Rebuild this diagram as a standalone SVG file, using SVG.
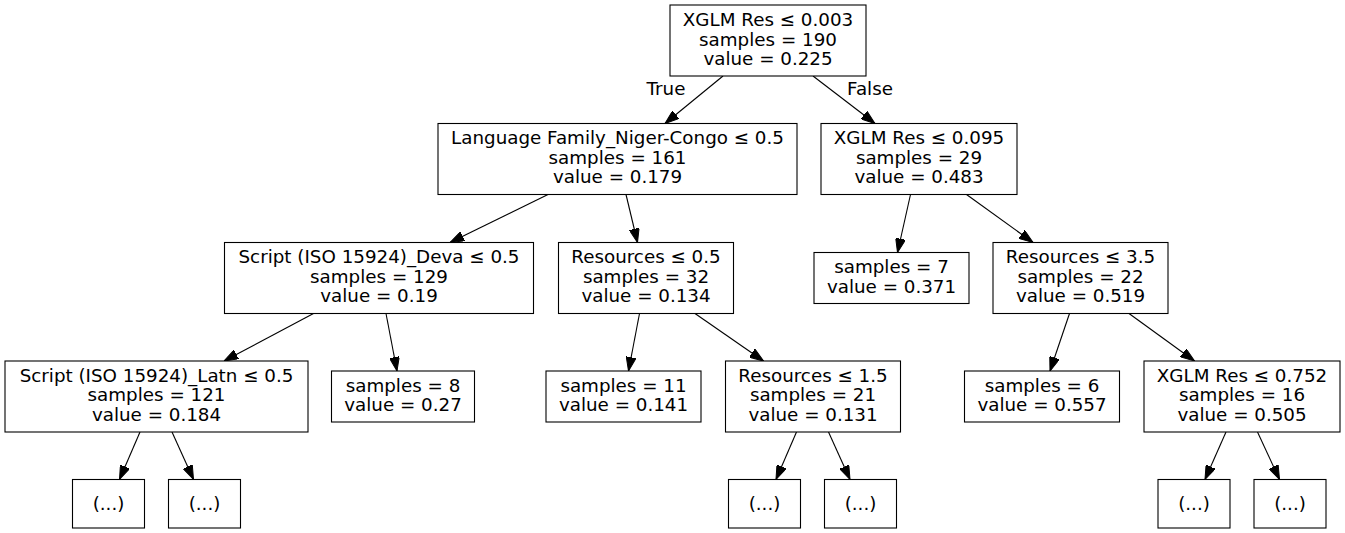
<svg xmlns="http://www.w3.org/2000/svg" width="1345" height="533" viewBox="0 0 1345 533">
<style>
.n rect{fill:#fff;stroke:#000;stroke-width:1.1}
text{font-family:"DejaVu Sans","Liberation Sans",sans-serif;font-size:18.3px;fill:#000;text-anchor:middle}
.e line{stroke:#000;stroke-width:1.1;marker-end:url(#ah)}
</style>
<defs>
<marker id="ah" markerUnits="userSpaceOnUse" markerWidth="14" markerHeight="10" viewBox="0 0 14 10" refX="14" refY="5" orient="auto">
<path d="M0,0 L14,5 L0,10 z" fill="#000" stroke="#000" stroke-width="1"/>
</marker>
</defs>
<rect width="1345" height="533" fill="#fff"/>
<g id="edges" class="e">
<line x1="723" y1="76" x2="665" y2="123.5"/>
<line x1="813" y1="76" x2="875" y2="123.5"/>
<line x1="548" y1="194.5" x2="450" y2="242.5"/>
<line x1="626" y1="194.5" x2="637.5" y2="242.5"/>
<line x1="910.5" y1="194.5" x2="897.5" y2="252.5"/>
<line x1="966.5" y1="194.5" x2="1033" y2="242.5"/>
<line x1="313.5" y1="313.5" x2="224" y2="361"/>
<line x1="386" y1="313.5" x2="397" y2="371"/>
<line x1="639.5" y1="313.5" x2="628.5" y2="371"/>
<line x1="695" y1="313.5" x2="763.5" y2="361"/>
<line x1="1069.5" y1="313.5" x2="1050" y2="371"/>
<line x1="1129" y1="313.5" x2="1194.5" y2="361"/>
<line x1="140" y1="432" x2="119.5" y2="479.5"/>
<line x1="172" y1="432" x2="193.5" y2="479.5"/>
<line x1="796.5" y1="432" x2="776" y2="479.5"/>
<line x1="828.5" y1="432" x2="850" y2="479.5"/>
<line x1="1226" y1="432" x2="1205" y2="479.5"/>
<line x1="1257.5" y1="432" x2="1279.5" y2="479.5"/>
<text x="666" y="95">True</text>
<text x="870" y="95">False</text>
</g>
<g id="n0" class="n"><rect x="670" y="5" width="196" height="71"/>
<text x="768" y="26">XGLM Res ≤ 0.003</text><text x="768" y="45.5">samples = 190</text><text x="768" y="65">value = 0.225</text></g>
<g id="n1" class="n"><rect x="438" y="123.5" width="359" height="71"/>
<text x="617.5" y="144.3">Language Family_Niger-Congo ≤ 0.5</text><text x="617.5" y="163.8">samples = 161</text><text x="617.5" y="183.3">value = 0.179</text></g>
<g id="n2" class="n"><rect x="821" y="123.5" width="196" height="71"/>
<text x="919" y="144.3">XGLM Res ≤ 0.095</text><text x="919" y="163.8">samples = 29</text><text x="919" y="183.3">value = 0.483</text></g>
<g id="n3" class="n"><rect x="224.5" y="242.5" width="309" height="71"/>
<text x="379" y="263.3">Script (ISO 15924)_Deva ≤ 0.5</text><text x="379" y="282.8">samples = 129</text><text x="379" y="302.3">value = 0.19</text></g>
<g id="n4" class="n"><rect x="558.5" y="242.5" width="175" height="71"/>
<text x="646" y="263.3">Resources ≤ 0.5</text><text x="646" y="282.8">samples = 32</text><text x="646" y="302.3">value = 0.134</text></g>
<g id="n5" class="n"><rect x="814" y="252.5" width="155" height="51"/>
<text x="891.5" y="273.3">samples = 7</text><text x="891.5" y="292.8">value = 0.371</text></g>
<g id="n6" class="n"><rect x="993" y="242.5" width="175" height="71"/>
<text x="1080.5" y="263.3">Resources ≤ 3.5</text><text x="1080.5" y="282.8">samples = 22</text><text x="1080.5" y="302.3">value = 0.519</text></g>
<g id="n7" class="n"><rect x="5" y="361" width="303" height="71"/>
<text x="156.5" y="381.8">Script (ISO 15924)_Latn ≤ 0.5</text><text x="156.5" y="401.3">samples = 121</text><text x="156.5" y="420.8">value = 0.184</text></g>
<g id="n8" class="n"><rect x="331.5" y="371" width="143" height="51"/>
<text x="403" y="391.8">samples = 8</text><text x="403" y="411.3">value = 0.27</text></g>
<g id="n9" class="n"><rect x="546" y="371" width="155" height="51"/>
<text x="623.5" y="391.8">samples = 11</text><text x="623.5" y="411.3">value = 0.141</text></g>
<g id="n10" class="n"><rect x="725.5" y="361" width="175" height="71"/>
<text x="813" y="381.8">Resources ≤ 1.5</text><text x="813" y="401.3">samples = 21</text><text x="813" y="420.8">value = 0.131</text></g>
<g id="n11" class="n"><rect x="964.5" y="371" width="155" height="51"/>
<text x="1042" y="391.8">samples = 6</text><text x="1042" y="411.3">value = 0.557</text></g>
<g id="n12" class="n"><rect x="1144" y="361" width="196" height="71"/>
<text x="1242" y="381.8">XGLM Res ≤ 0.752</text><text x="1242" y="401.3">samples = 16</text><text x="1242" y="420.8">value = 0.505</text></g>
<g id="n13" class="n"><rect x="72.5" y="479.5" width="72" height="48.5"/><text x="108.5" y="510">(...)</text></g>
<g id="n14" class="n"><rect x="168.5" y="479.5" width="72" height="48.5"/><text x="204.5" y="510">(...)</text></g>
<g id="n15" class="n"><rect x="728.5" y="479.5" width="72" height="48.5"/><text x="764.5" y="510">(...)</text></g>
<g id="n16" class="n"><rect x="824.5" y="479.5" width="72" height="48.5"/><text x="860.5" y="510">(...)</text></g>
<g id="n17" class="n"><rect x="1158" y="479.5" width="72" height="48.5"/><text x="1194" y="510">(...)</text></g>
<g id="n18" class="n"><rect x="1254" y="479.5" width="72" height="48.5"/><text x="1290" y="510">(...)</text></g>
</svg>
